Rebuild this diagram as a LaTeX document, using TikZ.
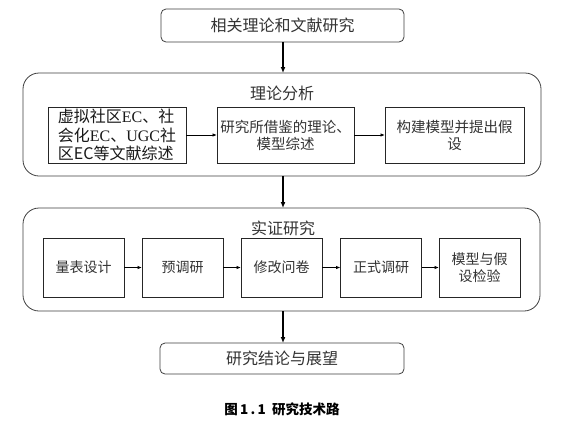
\documentclass[tikz,border=0pt]{standalone}
\usepackage{fontspec}
\setmainfont{Liberation Serif}
\newfontfamily\cjk{Noto Sans CJK SC}
\usetikzlibrary{arrows.meta}
\begin{document}
\begin{tikzpicture}[x=1pt,y=-1pt,
  every node/.style={inner sep=0pt, outer sep=0pt},
  roundbox/.style={draw=black!75, line width=0.8pt, rounded corners=5pt, fill=white, text=black!80, font=\cjk\fontsize{16}{18}\selectfont},
  bigbox/.style={draw=black!75, line width=0.8pt, rounded corners=16pt, fill=white},
  titletext/.style={text=black!80, font=\cjk\fontsize{16}{18}\selectfont},
  innerbox/.style={draw=black!85, line width=0.7pt, fill=white, align=center, text=black!80},
  mainarrow/.style={-{Latex[length=6pt,width=5pt]}, line width=1.3pt, black},
  smallarrow/.style={-{Latex[length=4.5pt,width=3.5pt]}, line width=0.9pt, black}
]
\useasboundingbox (0,0) rectangle (570,421);
\fill[white] (0,0) rectangle (570,421);

% top box
\node[roundbox, minimum width=243pt, minimum height=33pt] (top) at (282.5,25.5) {相关理论和文献研究};

% big box 1
\node[bigbox, minimum width=518pt, minimum height=103pt] (big1) at (282,124.5) {};
\node[titletext] (t1) at (282,93) {理论分析};
\node[innerbox, text=black!90, minimum width=138pt, minimum height=56pt, align=left, font=\fontsize{16}{18.5}\selectfont] (A) at (117,135)
  {{\cjk 虚拟社区}EC{\cjk 、社}\\{\cjk 会化}EC{\cjk 、}UGC{\cjk 社}\\{\cjk 区EC等文献综述}};
\node[innerbox, minimum width=137pt, minimum height=56pt, font=\cjk\fontsize{14.5}{17}\selectfont] (B) at (285.5,135)
  {研究所借鉴的理论、\\模型综述};
\node[innerbox, minimum width=139pt, minimum height=56pt, font=\cjk\fontsize{14.5}{17}\selectfont] (C) at (454.5,135)
  {构建模型并提出假\\设};

% big box 2
\node[bigbox, minimum width=517pt, minimum height=103pt] (big2) at (281.5,259.5) {};
\node[titletext] (t2) at (283,228) {实证研究};
\tikzset{stagebox/.style={innerbox, minimum width=81pt, minimum height=59pt, font=\cjk\fontsize{14}{17}\selectfont}}
\node[stagebox] (s1) at (83.5,267.5) {量表设计};
\node[stagebox] (s2) at (182.5,267.5) {预调研};
\node[stagebox] (s3) at (281.5,267.5) {修改问卷};
\node[stagebox] (s4) at (381,267.5) {正式调研};
\node[stagebox] (s5) at (479.5,267.5) {模型与假\\设检验};

% bottom box
\node[roundbox, minimum width=244pt, minimum height=31pt] (bot) at (282,358.5) {研究结论与展望};

% caption
\node[font=\cjk\bfseries\fontsize{13.5}{16}\selectfont] (cap) at (282,409) {图\,1\,.\,1\ \ 研究技术路};

% arrows
\coordinate (ax) at (283,42);
\draw[mainarrow] (top.south -| ax) -- (big1.north -| ax);
\draw[mainarrow] (big1.south -| ax) -- (big2.north -| ax);
\draw[mainarrow] (big2.south -| ax) -- (bot.north -| ax);

\draw[smallarrow] (A) -- (B);
\draw[smallarrow] (B) -- (C);
\draw[smallarrow] (s1) -- (s2);
\draw[smallarrow] (s2) -- (s3);
\draw[smallarrow] (s3) -- (s4);
\draw[smallarrow] (s4) -- (s5);
\end{tikzpicture}
\end{document}
